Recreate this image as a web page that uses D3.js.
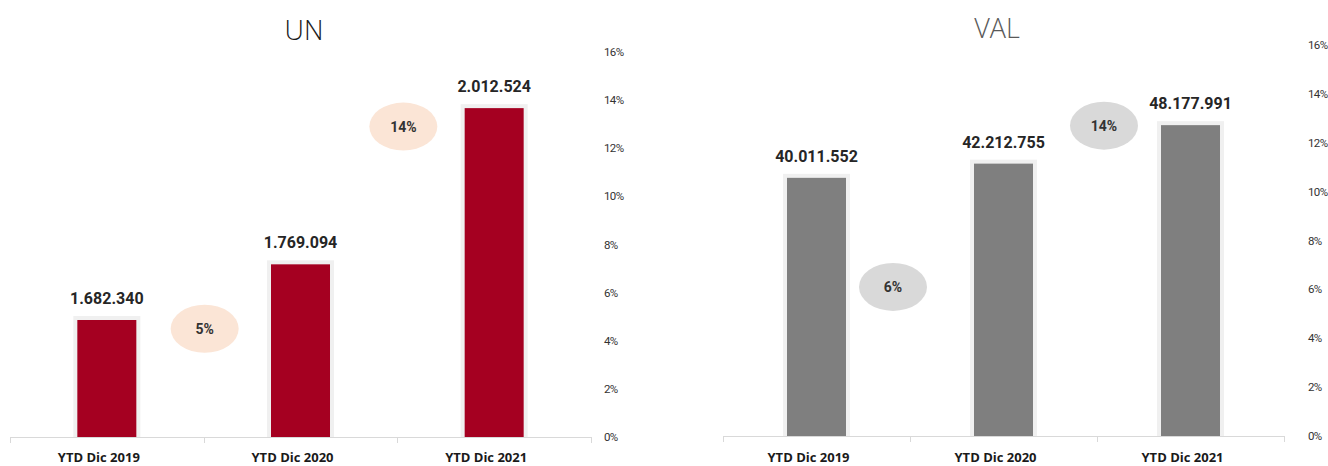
<!DOCTYPE html>
<html>
<head>
<style>
    body { margin: 0; background: #fff; }
    .title { font-family: "Open Sans", sans-serif; font-weight: 300; font-size: 27px; }
    .val { font-family: Roboto, sans-serif; font-weight: bold; font-size: 16px; fill: #262626; }
    .cat { font-family: "Open Sans", sans-serif; font-weight: bold; font-size: 13px; fill: #1a1a1a; }
    .pct { font-family: Roboto, sans-serif; font-size: 11.5px; letter-spacing: -0.6px; fill: #333; }
    .bub { font-family: Roboto, sans-serif; font-weight: bold; font-size: 14px; fill: #333; }
</style>
</head>
<body>
<svg width="1328" height="466"></svg>
<script src="https://d3js.org/d3.v7.min.js"></script>
<script>
    // data
    var categories = ["YTD Dic 2019", "YTD Dic 2020", "YTD Dic 2021"];
    var unValues = [1682340, 1769094, 2012524];
    var valValues = [40011552, 42212755, 48177991];
    var unGrowthLabels = ["5%", "14%"];
    var unGrowthPos = [4.5, 12.9];     // where the bubble sits on the % axis
    var valGrowthLabels = ["6%", "14%"];
    var valGrowthPos = [6.1, 12.7];
    var pctTicks = [0, 2, 4, 6, 8, 10, 12, 14, 16];

    var svg = d3.select("svg");
    var locale = d3.formatLocale({ decimal: ",", thousands: ".", grouping: [3], currency: ["", ""] });
    var fmt = locale.format(",d");

    function drawChart(cfg) {
        var g = svg.append("g");

        var x = d3.scaleBand()
            .domain(categories)
            .range([cfg.left, cfg.right]);

        var y = d3.scaleLinear()
            .domain(cfg.domain)
            .range([cfg.bottom, cfg.top]);

        var yPct = d3.scaleLinear()
            .domain([0, 16])
            .range([cfg.bottom, cfg.top]);

        var barW = 59;

        // title
        g.append("text")
            .attr("class", "title")
            .attr("x", cfg.titleX)
            .attr("y", cfg.titleY)
            .attr("text-anchor", "middle")
            .style("fill", cfg.titleColor)
            .text(cfg.title);

        // percent axis (right)
        g.selectAll(".pct")
            .data(pctTicks)
            .enter().append("text")
            .attr("class", "pct")
            .attr("x", cfg.pctX)
            .attr("y", function(d) { return yPct(d) + 4; })
            .text(function(d) { return d + "%"; });

        // bars: light outline then fill
        g.selectAll(".barbg")
            .data(cfg.values)
            .enter().append("rect")
            .attr("x", function(d, i) { return x(categories[i]) + x.bandwidth() / 2 - barW / 2 - 4; })
            .attr("y", function(d) { return y(d) - 4; })
            .attr("width", barW + 8)
            .attr("height", function(d) { return cfg.bottom - y(d) + 4; })
            .attr("fill", "#f0f0f0");

        g.selectAll(".bar")
            .data(cfg.values)
            .enter().append("rect")
            .attr("x", function(d, i) { return x(categories[i]) + x.bandwidth() / 2 - barW / 2; })
            .attr("y", function(d) { return y(d); })
            .attr("width", barW)
            .attr("height", function(d) { return cfg.bottom - y(d); })
            .attr("fill", cfg.barColor);

        g.selectAll(".val")
            .data(cfg.values)
            .enter().append("text")
            .attr("class", "val")
            .attr("x", function(d, i) { return x(categories[i]) + x.bandwidth() / 2; })
            .attr("y", function(d) { return y(d) - 16; })
            .attr("text-anchor", "middle")
            .text(function(d) { return fmt(d); });

        // baseline with category dividers
        g.append("line")
            .attr("x1", cfg.left).attr("x2", cfg.right)
            .attr("y1", cfg.bottom + 0.5).attr("y2", cfg.bottom + 0.5)
            .attr("stroke", "#d9d9d9");

        var divs = categories.map(function(c) { return x(c); }).concat([cfg.right]);
        g.selectAll(".div")
            .data(divs)
            .enter().append("line")
            .attr("x1", function(d) { return Math.round(d) + 0.5; })
            .attr("x2", function(d) { return Math.round(d) + 0.5; })
            .attr("y1", cfg.bottom)
            .attr("y2", cfg.bottom + 6)
            .attr("stroke", "#d9d9d9");

        g.selectAll(".cat")
            .data(categories)
            .enter().append("text")
            .attr("class", "cat")
            .attr("x", function(d) { return x(d) + x.bandwidth() / 2 - 8; })
            .attr("y", 466 - 4)
            .attr("text-anchor", "middle")
            .text(function(d) { return d; });

        // growth bubbles, between consecutive categories
        var bub = g.selectAll(".bubble")
            .data(cfg.growthPos)
            .enter().append("g")
            .attr("transform", function(d, i) {
                return "translate(" + (x(categories[i + 1]) + cfg.bubDx[i]) + "," + yPct(d) + ")";
            });

        bub.append("ellipse")
            .attr("rx", 34)
            .attr("ry", 24)
            .attr("fill", cfg.bubColor);

        bub.append("text")
            .attr("class", "bub")
            .attr("text-anchor", "middle")
            .attr("y", 5)
            .text(function(d, i) { return cfg.growthLabels[i]; });
    }

    drawChart({
        title: "UN", titleX: 304, titleY: 40, titleColor: "#1a1a1a",
        left: 10, right: 591, top: 52, bottom: 437,
        domain: [1500000, 2100000],
        values: unValues, barColor: "#a50021",
        growthPos: unGrowthPos, growthLabels: unGrowthLabels,
        bubColor: "#fbe5d6", bubDx: [1, 6],
        pctX: 604
    });

    drawChart({
        title: "VAL", titleX: 997, titleY: 38, titleColor: "#595959",
        left: 723, right: 1284, top: 45, bottom: 436,
        domain: [0, 60600000],
        values: valValues, barColor: "#7f7f7f",
        growthPos: valGrowthPos, growthLabels: valGrowthLabels,
        bubColor: "#d9d9d9", bubDx: [-17, 7],
        pctX: 1308
    });
</script>
</body>
</html>
